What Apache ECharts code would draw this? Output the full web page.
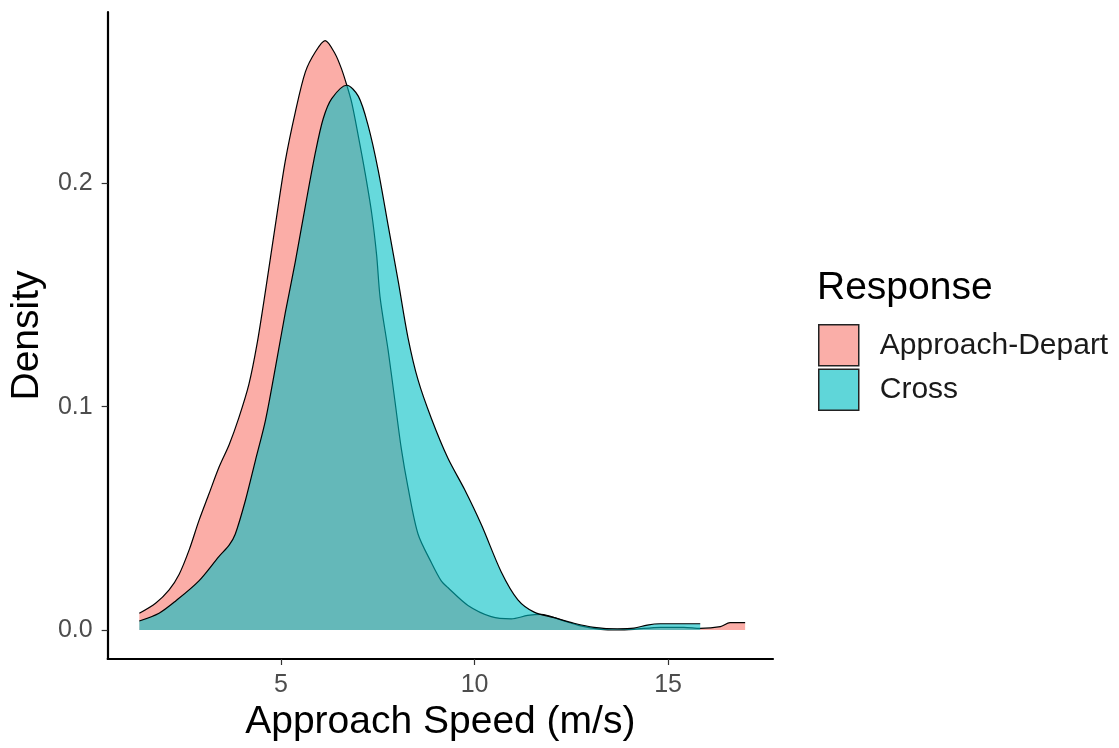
<!DOCTYPE html>
<html>
<head>
<meta charset="utf-8">
<script src="https://cdn.jsdelivr.net/npm/echarts@6/dist/echarts.min.js"></script>
<style>
  html, body { margin: 0; padding: 0; background: #fff; }
  #chart { width: 1119px; height: 748px; }
</style>
</head>
<body>
<div id="chart"></div>
<script>
// ---- Data ----
const seriesNames = ['Approach-Depart', 'Cross'];

const adSpeed = [1.34, 1.76, 2.11, 2.37, 2.63, 2.88, 3.14, 3.40, 3.66, 3.91, 4.17, 4.38, 4.60, 4.86, 5.11, 5.37, 5.63, 5.89, 6.14, 6.40, 6.57, 6.70, 6.83, 7.00, 7.17, 7.34, 7.47, 7.56, 7.77, 7.94, 8.11, 8.28, 8.54, 8.89, 9.14, 9.31, 9.83, 10.43, 10.95, 11.37, 11.72, 12.23, 12.74, 13.26, 13.69, 14.12, 14.80, 15.41, 15.83, 16.35, 16.60, 16.99];
const adDensity = [0.0075, 0.012, 0.018, 0.025, 0.036, 0.049, 0.061, 0.073, 0.083, 0.095, 0.110, 0.128, 0.152, 0.182, 0.210, 0.232, 0.250, 0.259, 0.264, 0.258, 0.251, 0.244, 0.236, 0.221, 0.205, 0.187, 0.168, 0.149, 0.125, 0.103, 0.081, 0.064, 0.043, 0.030, 0.022, 0.019, 0.011, 0.006, 0.005, 0.0065, 0.007, 0.0045, 0.0018, 0.0003, 0.0, 0.0003, 0.0012, 0.0012, 0.0007, 0.0015, 0.0033, 0.0033];

const crossSpeed = [1.34, 1.85, 2.28, 2.88, 3.40, 3.66, 3.82, 4.08, 4.34, 4.60, 4.86, 5.11, 5.37, 5.63, 5.89, 6.09, 6.31, 6.70, 7.00, 7.25, 7.51, 7.77, 8.03, 8.28, 8.54, 8.89, 9.31, 9.74, 10.18, 10.69, 11.12, 11.54, 12.06, 12.57, 13.09, 13.69, 14.12, 14.46, 14.80, 15.75, 15.83];
const crossDensity = [0.004, 0.0075, 0.013, 0.022, 0.033, 0.038, 0.043, 0.058, 0.076, 0.094, 0.118, 0.142, 0.165, 0.190, 0.214, 0.229, 0.238, 0.244, 0.239, 0.226, 0.206, 0.181, 0.156, 0.131, 0.112, 0.0945, 0.077, 0.063, 0.047, 0.026, 0.0135, 0.008, 0.0055, 0.003, 0.0012, 0.0005, 0.0008, 0.0022, 0.0028, 0.0028, 0.0028];

const xTicks = [5, 10, 15];
const yTicks = [0, 0.1, 0.2];

// ---- Chart ----
const FONT = 'Liberation Sans, Arial, sans-serif';
const fills = ['rgba(248,118,109,0.6)', 'rgba(0,191,196,0.6)'];
const legendFills = ['#FAAEA8', '#5FD6D9'];

function pairs(xs, ys) { return xs.map((x, i) => [x, ys[i]]); }

const chart = echarts.init(document.getElementById('chart'), null, { renderer: 'canvas' });

const option = {
  animation: false,
  backgroundColor: '#ffffff',
  textStyle: { fontFamily: FONT },
  grid: { left: 105, right: 346, top: 12, bottom: 89, containLabel: false },
  title: {
    text: 'Response',
    left: 812, top: 264,
    textStyle: { fontFamily: FONT, fontSize: 39, fontWeight: 'normal', color: '#000' }
  },
  legend: {
    orient: 'vertical',
    left: 818, top: 324,
    padding: 0,
    icon: 'rect',
    itemWidth: 40, itemHeight: 41, itemGap: 2,
    textStyle: { fontFamily: FONT, fontSize: 30, color: '#1a1a1a', padding: [0, 0, 0, 16] },
    data: seriesNames.map((n, i) => ({
      name: n,
      icon: 'rect',
      itemStyle: { color: legendFills[i], borderColor: '#222', borderWidth: 1.5, opacity: 1 }
    }))
  },
  xAxis: {
    type: 'value',
    min: 0.522, max: 17.71,
    name: 'Approach Speed (m/s)',
    nameLocation: 'middle',
    nameGap: 43,
    nameTextStyle: { fontFamily: FONT, fontSize: 39, color: '#000' },
    axisLine: { show: true, onZero: false, lineStyle: { color: '#000', width: 2.2 } },
    axisTick: { show: true, customValues: xTicks, length: 6, lineStyle: { color: '#333', width: 1.2 } },
    axisLabel: { customValues: xTicks, fontFamily: FONT, fontSize: 25, color: '#4D4D4D', margin: 14,
                 formatter: v => String(v) },
    splitLine: { show: false }
  },
  yAxis: {
    type: 'value',
    min: -0.013, max: 0.2768,
    name: 'Density',
    nameLocation: 'middle',
    nameGap: 60,
    nameRotate: 90,
    nameTextStyle: { fontFamily: FONT, fontSize: 39, color: '#000' },
    axisLine: { show: true, onZero: false, lineStyle: { color: '#000', width: 2.2 } },
    axisTick: { show: true, customValues: yTicks, length: 6, lineStyle: { color: '#333', width: 1.2 } },
    axisLabel: { customValues: yTicks, fontFamily: FONT, fontSize: 25, color: '#4D4D4D', margin: 15,
                 formatter: v => v.toFixed(1) },
    splitLine: { show: false }
  },
  series: [
    {
      name: seriesNames[0],
      type: 'line',
      data: pairs(adSpeed, adDensity),
      smooth: 0.3,
      showSymbol: false,
      symbol: 'none',
      color: legendFills[0],
      lineStyle: { color: '#000', width: 1.2 },
      areaStyle: { color: fills[0], opacity: 1, origin: 0 },
      z: 2
    },
    {
      name: seriesNames[1],
      type: 'line',
      data: pairs(crossSpeed, crossDensity),
      smooth: 0.3,
      showSymbol: false,
      symbol: 'none',
      color: legendFills[1],
      lineStyle: { color: '#000', width: 1.2 },
      areaStyle: { color: fills[1], opacity: 1, origin: 0 },
      z: 3
    }
  ]
};

chart.setOption(option);
</script>
</body>
</html>
